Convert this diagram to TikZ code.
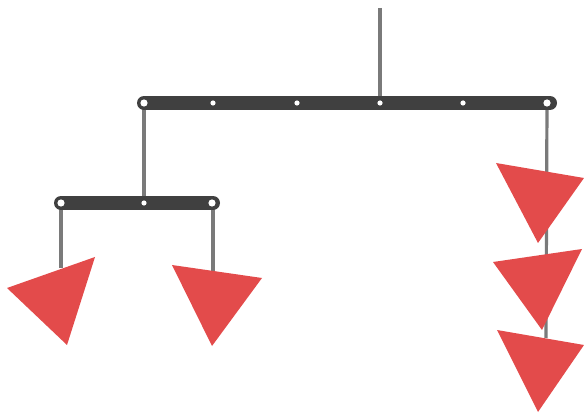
\documentclass[tikz,border=0pt]{standalone}
\definecolor{bar}{HTML}{404040}
\definecolor{rope}{HTML}{7A7A7A}
\definecolor{tri}{HTML}{E34B4B}
\tikzset{
  barline/.style={draw=bar, line width=14pt, line cap=round},
  ropeline/.style={draw=rope, line width=3.2pt},
  hole/.style={fill=white, draw=none},
  tripiece/.style={fill=tri, draw=none}
}
\begin{document}
\begin{tikzpicture}[x=1pt,y=-1pt]
\useasboundingbox (0,0) rectangle (584,414);
% coordinates
\coordinate (top) at (380,8);
\coordinate (tb) at (380,103);
\coordinate (tl) at (144,103);
\coordinate (tr) at (550,103);
\coordinate (lb) at (144,203);
\coordinate (ll) at (61,203);
\coordinate (lr) at (213,203);
% ropes
\draw[ropeline] (top) -- (tb);
\draw[ropeline] (tl) -- (lb);
\draw[ropeline] (ll) -- (61,268);
\draw[ropeline] (lr) -- (213,272);
\draw[ropeline] (547,103) -- (546,338);
% bars
\draw[barline] (tl) -- (tr);
\draw[barline] (ll) -- (lr);
% holes
\foreach \x in {213,297,380,463} \fill[hole] (\x,103) circle (2.6);
\foreach \x in {144,547} \fill[hole] (\x,103) circle (3.6);
\fill[hole] (144,203) circle (2.6);
\foreach \x in {61,212} \fill[hole] (\x,203) circle (3.6);
% triangles
\fill[tripiece] (7,288) -- (95,257) -- (67,345) -- cycle;
\fill[tripiece] (172,265) -- (262,278) -- (212,346) -- cycle;
\fill[tripiece] (496,163) -- (584,178) -- (538,243) -- cycle;
\fill[tripiece] (493,262) -- (582,249) -- (542,330) -- cycle;
\fill[tripiece] (497,330) -- (584,345) -- (538,412) -- cycle;
\end{tikzpicture}
\end{document}
